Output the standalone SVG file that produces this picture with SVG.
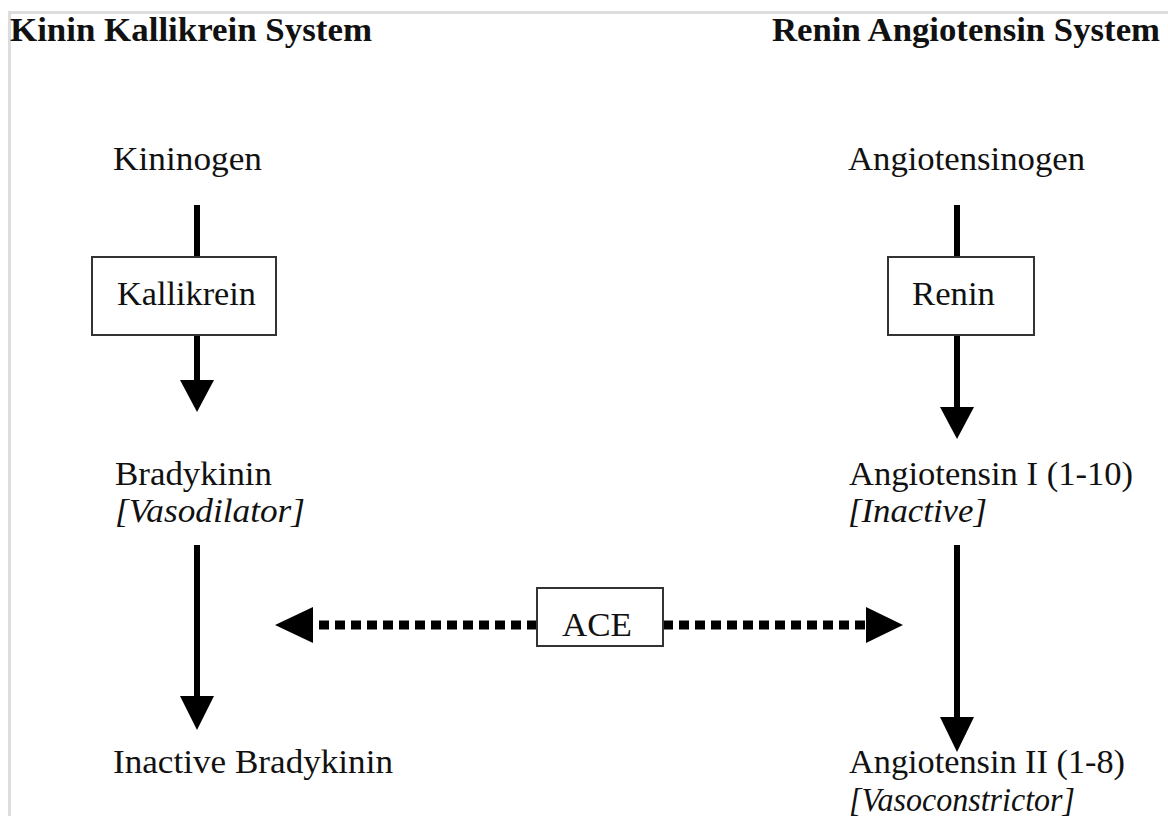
<svg xmlns="http://www.w3.org/2000/svg" width="1168" height="816" viewBox="0 0 1168 816">
<defs>
<style>
.t{font-family:"Liberation Serif","Times New Roman",serif;font-size:34px;fill:#111}
.b{font-weight:bold;font-size:33px}
.i{font-style:italic}
.box{fill:#fff;stroke:#333;stroke-width:2}
.ln{stroke:#000;stroke-width:6;fill:none}
.dot{stroke:#000;stroke-width:9;stroke-dasharray:10 6;fill:none}
.hd{fill:#000}
</style>
</defs>
<rect width="1168" height="816" fill="#fff"/>
<path d="M9.5 816 V12.5 H1168" fill="none" stroke="#ddd" stroke-width="3"/>
<g id="titles">
<text class="t b" x="10" y="41" textLength="362" lengthAdjust="spacingAndGlyphs">Kinin Kallikrein System</text>
<text class="t b" x="772" y="41" textLength="388" lengthAdjust="spacingAndGlyphs">Renin Angiotensin System</text>
</g>
<g id="connectors">
<line class="ln" x1="197" y1="205" x2="197" y2="257"/>
<line class="ln" x1="197" y1="335" x2="197" y2="382"/>
<polygon class="hd" points="180,380 214,380 197,412"/>
<line class="ln" x1="957" y1="205" x2="957" y2="257"/>
<line class="ln" x1="957" y1="335" x2="957" y2="409"/>
<polygon class="hd" points="940,407 974,407 957,439"/>
<line class="ln" x1="197" y1="545" x2="197" y2="698"/>
<polygon class="hd" points="180,696 214,696 197,730"/>
<line class="ln" x1="957" y1="545" x2="957" y2="719"/>
<polygon class="hd" points="940,717 974,717 957,752"/>
<line class="dot" x1="537" y1="625" x2="313" y2="625"/>
<polygon class="hd" points="275,625 313,607 313,643"/>
<line class="dot" x1="663" y1="625" x2="867" y2="625"/>
<polygon class="hd" points="903,625 866,607 866,643"/>
</g>
<g id="kininogen"><text class="t" x="113" y="170" textLength="149" lengthAdjust="spacingAndGlyphs">Kininogen</text></g>
<g id="kallikrein"><rect class="box" x="92" y="257" width="184" height="78"/><text class="t" x="117" y="305" textLength="139" lengthAdjust="spacingAndGlyphs">Kallikrein</text></g>
<g id="bradykinin"><text class="t" x="115" y="485" textLength="157" lengthAdjust="spacingAndGlyphs">Bradykinin</text><text class="t i" x="115" y="522" textLength="190" lengthAdjust="spacingAndGlyphs">[Vasodilator]</text></g>
<g id="inactive-bradykinin"><text class="t" x="113" y="773" textLength="280" lengthAdjust="spacingAndGlyphs">Inactive Bradykinin</text></g>
<g id="angiotensinogen"><text class="t" x="848" y="170" textLength="237" lengthAdjust="spacingAndGlyphs">Angiotensinogen</text></g>
<g id="renin"><rect class="box" x="888" y="257" width="146" height="78"/><text class="t" x="912" y="305" textLength="83" lengthAdjust="spacingAndGlyphs">Renin</text></g>
<g id="angiotensin-i"><text class="t" x="849" y="485" textLength="284" lengthAdjust="spacingAndGlyphs">Angiotensin I (1-10)</text><text class="t i" x="848" y="522" textLength="139" lengthAdjust="spacingAndGlyphs">[Inactive]</text></g>
<g id="angiotensin-ii"><text class="t" x="849" y="773" textLength="276" lengthAdjust="spacingAndGlyphs">Angiotensin II (1-8)</text><text class="t i" x="849" y="811" textLength="226" lengthAdjust="spacingAndGlyphs">[Vasoconstrictor]</text></g>
<g id="ace"><rect class="box" x="537" y="588" width="126" height="58"/><text class="t" x="562" y="636" textLength="70" lengthAdjust="spacingAndGlyphs">ACE</text></g>
</svg>
